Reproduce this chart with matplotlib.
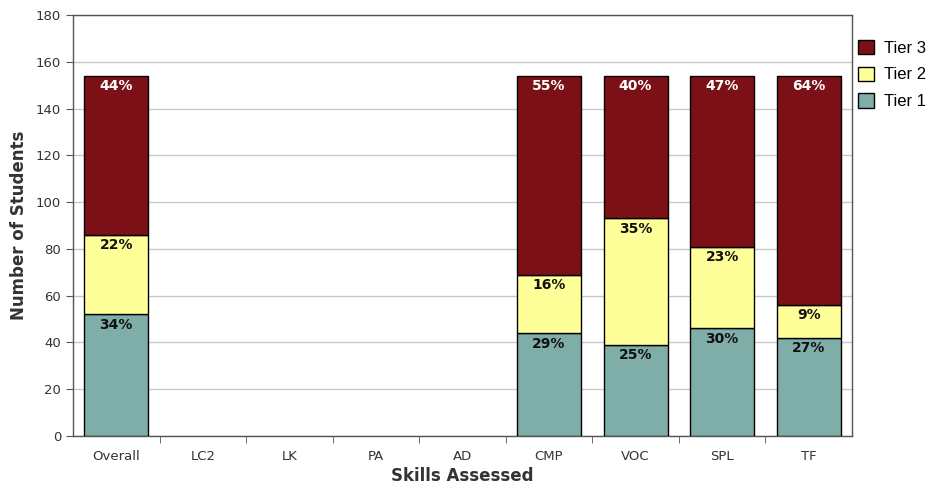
import matplotlib.pyplot as plt
import numpy as np

skills = ["Overall", "LC2", "LK", "PA", "AD", "CMP", "VOC", "SPL", "TF"]
tier1 = np.array([52, 0, 0, 0, 0, 44, 39, 46, 42])
tier2 = np.array([34, 0, 0, 0, 0, 25, 54, 35, 14])
tier3 = np.array([68, 0, 0, 0, 0, 85, 61, 73, 98])
pct1 = ["34%", "", "", "", "", "29%", "25%", "30%", "27%"]
pct2 = ["22%", "", "", "", "", "16%", "35%", "23%", "9%"]
pct3 = ["44%", "", "", "", "", "55%", "40%", "47%", "64%"]


def main():
    plt.rcParams["font.family"] = ["DejaVu Sans"]
    fig = plt.figure(figsize=(9.29, 4.93), dpi=100)
    ax = fig.add_axes([0.0786, 0.1156, 0.8384, 0.854])

    x = np.arange(len(skills))
    has = (tier1 + tier2 + tier3) > 0  # skills with no data get no bar
    w = 0.74
    c1, c2, c3 = "#7FADA8", "#FFFF99", "#7B1116"
    b1 = ax.bar(x[has], tier1[has], w, color=c1, edgecolor="black", linewidth=1, label="Tier 1", zorder=3)
    b2 = ax.bar(x[has], tier2[has], w, bottom=tier1[has], color=c2, edgecolor="black", linewidth=1, label="Tier 2", zorder=3)
    b3 = ax.bar(x[has], tier3[has], w, bottom=(tier1 + tier2)[has], color=c3, edgecolor="black", linewidth=1, label="Tier 3", zorder=3)

    tops = [tier1, tier1 + tier2, tier1 + tier2 + tier3]
    for top, labels, col in zip(tops, [pct1, pct2, pct3], ["#111111", "#111111", "white"]):
        for xi, yi, lab in zip(x, top, labels):
            if lab:
                ax.annotate(lab, (xi, yi), xytext=(0, -2.5), textcoords="offset points",
                            ha="center", va="top", fontsize=10, fontweight="bold",
                            color=col, zorder=4)

    ax.set_xlim(-0.5, len(skills) - 0.5)
    ax.set_ylim(0, 180)
    ax.set_yticks(np.arange(0, 181, 20))
    ax.yaxis.grid(True, color="#C8C8C8", linewidth=1, zorder=0)
    ax.set_xticks(x)
    ax.set_xticklabels(skills)
    ax.set_xticks(np.arange(0.5, len(skills) - 1, 1), minor=True)
    ax.tick_params(axis="x", which="major", length=0, pad=10, labelsize=9.5, labelcolor="#333333")
    ax.tick_params(axis="x", which="minor", length=5, color="#555555", direction="out")
    ax.tick_params(axis="y", length=5, color="#555555", labelsize=9.5, labelcolor="#333333")
    for s in ax.spines.values():
        s.set_color("#555555")
        s.set_linewidth(1)

    ax.set_xlabel("Skills Assessed", fontsize=12, fontweight="bold", color="#333333", labelpad=3)
    ax.set_ylabel("Number of Students", fontsize=12, fontweight="bold", color="#333333", labelpad=6)

    ax.legend(handles=[b3, b2, b1], loc="upper left", bbox_to_anchor=(1.0, 0.955),
              frameon=False, prop={"family": "Liberation Sans", "size": 12},
              handlelength=0.95, handleheight=0.95, handletextpad=0.6,
              labelspacing=0.65, borderpad=0.1, borderaxespad=0.25)

    fig.savefig("out.png", dpi=100)


if __name__ == "__main__":
    main()
